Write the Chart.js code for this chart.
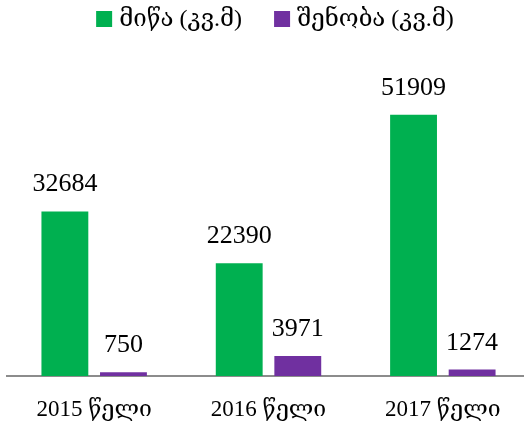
<!DOCTYPE html>
<html>
<head>
<meta charset="utf-8">
<script src="https://cdn.jsdelivr.net/npm/chart.js@4"></script>
<style>
html,body{margin:0;padding:0;background:#fff;overflow:hidden;}
#wrap{width:530px;height:429px;position:relative;}
</style>
</head>
<body>
<div id="wrap"><canvas id="c" width="530" height="429"></canvas></div>
<script>
const categories = ["2015 წელი", "2016 წელი", "2017 წელი"];
const landValues = [32684, 22390, 51909];
const buildingValues = [750, 3971, 1274];
const seriesNames = ["მიწა (კვ.მ)", "შენობა (კვ.მ)"];
const seriesColors = ['#00B050', '#7030A0'];

const FONT = "'Liberation Serif', 'DejaVu Serif', serif";

const valueLabels = {
  id: 'valueLabels',
  afterDatasetsDraw(chart) {
    const ctx = chart.ctx;
    ctx.save();
    ctx.font = "26px " + FONT;
    ctx.fillStyle = "#000";
    ctx.textAlign = "center";
    ctx.textBaseline = "alphabetic";
    chart.data.datasets.forEach((ds, i) => {
      chart.getDatasetMeta(i).data.forEach((bar, j) => {
        ctx.fillText(String(ds.data[j]), bar.x, bar.y - 20);
      });
    });
    ctx.restore();
  }
};

const topLegend = {
  id: 'topLegend',
  afterDraw(chart) {
    const ctx = chart.ctx;
    ctx.save();
    ctx.font = "24px " + FONT;
    const box = 16, gapText = 7, gapItem = 32;
    const ds = chart.data.datasets;
    const widths = ds.map(d => ctx.measureText(d.label).width);
    let total = 0;
    widths.forEach((w, i) => { total += box + gapText + w + (i < widths.length - 1 ? gapItem : 0); });
    let x = 275 - total / 2;
    const cy = 19;
    ctx.textBaseline = 'middle';
    ctx.textAlign = 'left';
    ds.forEach((d, i) => {
      ctx.fillStyle = d.backgroundColor;
      ctx.fillRect(x, cy - box / 2, box, box);
      x += box + gapText;
      ctx.fillStyle = '#000';
      ctx.fillText(d.label, x, cy + 1);
      x += widths[i] + gapItem;
    });
    ctx.restore();
  }
};

new Chart(document.getElementById('c'), {
  type: 'bar',
  data: {
    labels: categories,
    datasets: [
      { label: seriesNames[0], data: landValues, backgroundColor: seriesColors[0], barPercentage: 0.8, categoryPercentage: 0.672 },
      { label: seriesNames[1], data: buildingValues, backgroundColor: seriesColors[1], barPercentage: 0.8, categoryPercentage: 0.672 }
    ]
  },
  options: {
    responsive: false,
    animation: false,
    layout: { padding: { left: 7, right: 0, top: 74, bottom: -14.6 } },
    plugins: {
      legend: { display: false },
      tooltip: { enabled: false }
    },
    scales: {
      x: {
        grid: { display: false, drawTicks: false },
        border: { display: true, color: '#8c8c8c', width: 2 },
        ticks: { color: '#000', font: { family: FONT, size: 23 }, padding: 20 }
      },
      y: {
        display: false,
        min: 0,
        max: 60000
      }
    }
  },
  plugins: [valueLabels, topLegend]
});
</script>
</body>
</html>
